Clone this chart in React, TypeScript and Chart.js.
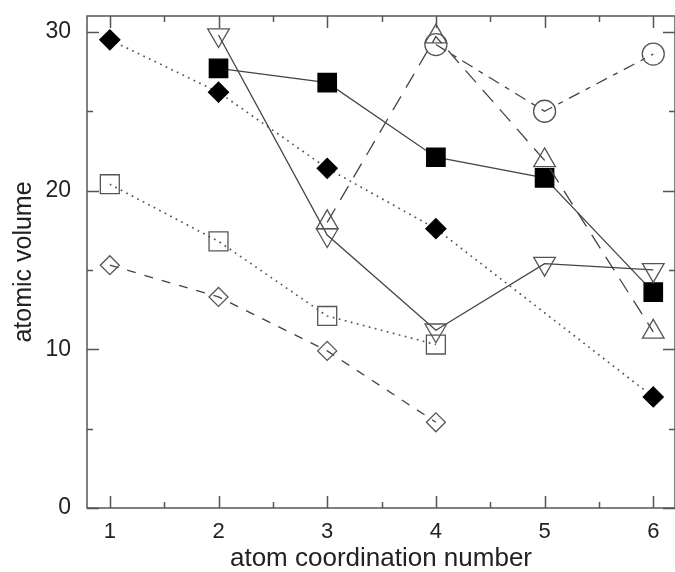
import { useEffect, useRef } from "react";
import { Chart, registerables } from "chart.js";

Chart.register(...registerables);

const coordination = [1, 2, 3, 4, 5, 6];
const filledDiamond = [29.5, 26.2, 21.4, 17.6, null, 7.0];
const filledSquare = [null, 27.7, 26.8, 22.1, 20.8, 13.6];
const openDownTriangle = [null, 29.8, 17.2, 11.2, 15.4, 15.0];
const openUpTriangle = [null, null, 18.0, 29.7, 21.9, 11.1];
const openCircle = [null, null, null, 29.2, 25.0, 28.6];
const openSquare = [20.4, 16.8, 12.1, 10.3, null, null];
const openDiamond = [15.3, 13.3, 9.9, 5.4, null, null];

const xMajorTicks = [1, 2, 3, 4, 5, 6];
const xMinorTicks = [1.5, 2.5, 3.5, 4.5, 5.5];
const yMajorTicks = [0, 10, 20, 30];
const yMinorTicks = [5, 15, 25];

const LINE = "#444";
const OPEN = "#555";
const FONT = "'Liberation Sans', Arial, Helvetica, sans-serif";

function pts(values: (number | null)[]) {
  const out: { x: number; y: number }[] = [];
  values.forEach((v, i) => {
    if (v !== null) out.push({ x: coordination[i], y: v });
  });
  return out;
}

const framePlugin = {
  id: "frameTicks",
  afterDraw(chart: any) {
    const { ctx, chartArea, scales } = chart;
    const { left, right, top, bottom } = chartArea;
    const xs = scales.x;
    const ys = scales.y;
    ctx.save();
    ctx.strokeStyle = "#555";
    ctx.lineWidth = 1.5;
    ctx.beginPath();
    ctx.rect(left, top, right - left, bottom - top);
    ctx.stroke();
    const major = 12;
    const minor = 6;
    ctx.beginPath();
    const xt = (v: number, len: number) => {
      const p = Math.round(xs.getPixelForValue(v)) + 0.5;
      ctx.moveTo(p, bottom);
      ctx.lineTo(p, bottom - len);
      ctx.moveTo(p, top);
      ctx.lineTo(p, top + len);
    };
    const yt = (v: number, len: number) => {
      const p = Math.round(ys.getPixelForValue(v)) + 0.5;
      ctx.moveTo(left, p);
      ctx.lineTo(left + len, p);
      ctx.moveTo(right, p);
      ctx.lineTo(right - len, p);
    };
    xMajorTicks.forEach((v) => xt(v, major));
    xMinorTicks.forEach((v) => xt(v, minor));
    yMajorTicks.forEach((v) => yt(v, major));
    yMinorTicks.forEach((v) => yt(v, minor));
    ctx.stroke();
    ctx.restore();
  },
};

export default function App() {
  const ref = useRef<HTMLCanvasElement | null>(null);
  useEffect(() => {
    if (!ref.current) return;
    const common = { showLine: true, borderWidth: 1.3, pointBorderWidth: 1.3 };
    const chart = new Chart(ref.current, {
      type: "scatter",
      data: {
        datasets: [
          {
            ...common,
            label: "open diamond",
            data: pts(openDiamond),
            borderColor: LINE,
            borderDash: [9, 9],
            pointStyle: "rectRot",
            pointRadius: 9.5,
            pointBorderColor: OPEN,
            pointBackgroundColor: "rgba(0,0,0,0)",
          },
          {
            ...common,
            label: "open square",
            data: pts(openSquare),
            borderColor: "#555",
            borderWidth: 1.7,
            borderDash: [1.7, 4.5],
            pointStyle: "rect",
            pointRadius: 13.4,
            pointBorderColor: OPEN,
            pointBackgroundColor: "rgba(0,0,0,0)",
          },
          {
            ...common,
            label: "open circle",
            data: pts(openCircle),
            borderColor: LINE,
            borderDash: [12, 7, 5, 7],
            pointStyle: "circle",
            pointRadius: 11,
            pointBorderColor: OPEN,
            pointBackgroundColor: "rgba(0,0,0,0)",
          },
          {
            ...common,
            label: "open up triangle",
            data: pts(openUpTriangle),
            borderColor: LINE,
            borderDash: [16, 10],
            pointStyle: "triangle",
            pointRadius: 12.5,
            pointBorderColor: OPEN,
            pointBackgroundColor: "rgba(0,0,0,0)",
          },
          {
            ...common,
            label: "open down triangle",
            data: pts(openDownTriangle),
            borderColor: LINE,
            pointStyle: "triangle",
            pointRotation: 180,
            pointRadius: 12.5,
            pointBorderColor: OPEN,
            pointBackgroundColor: "rgba(0,0,0,0)",
          },
          {
            ...common,
            label: "filled square",
            data: pts(filledSquare),
            borderColor: LINE,
            pointStyle: "rect",
            pointRadius: 13,
            pointBorderColor: "#000",
            pointBackgroundColor: "#000",
          },
          {
            ...common,
            label: "filled diamond",
            data: pts(filledDiamond),
            borderColor: "#555",
            borderWidth: 1.7,
            borderDash: [1.7, 4.5],
            pointStyle: "rectRot",
            pointRadius: 10,
            pointBorderColor: "#000",
            pointBackgroundColor: "#000",
          },
        ],
      },
      options: {
        animation: false,
        responsive: false,
        layout: { autoPadding: false, padding: { top: 16, right: 0, left: 0, bottom: 0 } },
        plugins: { legend: { display: false }, tooltip: { enabled: false } },
        scales: {
          x: {
            type: "linear",
            min: 0.79,
            max: 6.2,
            afterFit: (s: any) => {
              s.height = 64;
              s.paddingLeft = 0;
              s.paddingRight = 0;
            },
            grid: { display: false, drawTicks: false },
            border: { display: false },
            ticks: {
              stepSize: 1,
              includeBounds: false,
              padding: 11,
              color: "#222",
              font: { family: FONT, size: 22 },
              callback: (v: any) => (Number.isInteger(v) ? String(v) : ""),
            },
            title: {
              display: true,
              text: "atom coordination number",
              color: "#222",
              font: { family: FONT, size: 26, lineHeight: 1.0 },
              padding: { top: 0, bottom: 0 },
            },
          },
          y: {
            type: "linear",
            min: 0,
            max: 31,
            afterFit: (s: any) => {
              s.width = 87;
              s.paddingTop = 0;
              s.paddingBottom = 0;
            },
            grid: { display: false, drawTicks: false },
            border: { display: false },
            ticks: {
              stepSize: 10,
              includeBounds: false,
              padding: 16,
              color: "#222",
              font: { family: FONT, size: 23 },
              callback: (v: any) => (Number.isInteger(v) && v % 10 === 0 ? String(v) : ""),
            },
            title: {
              display: true,
              text: "atomic volume",
              color: "#222",
              font: { family: FONT, size: 25, lineHeight: 1.2 },
              padding: { top: 9, bottom: 0 },
            },
          },
        },
      },
      plugins: [framePlugin],
    });
    return () => chart.destroy();
  }, []);
  return (
    <div style={{ position: "absolute", left: 0, top: 0, width: 675, height: 572, background: "#fff" }}>
      <canvas ref={ref} width={675} height={572} style={{ display: "block" }} />
    </div>
  );
}
